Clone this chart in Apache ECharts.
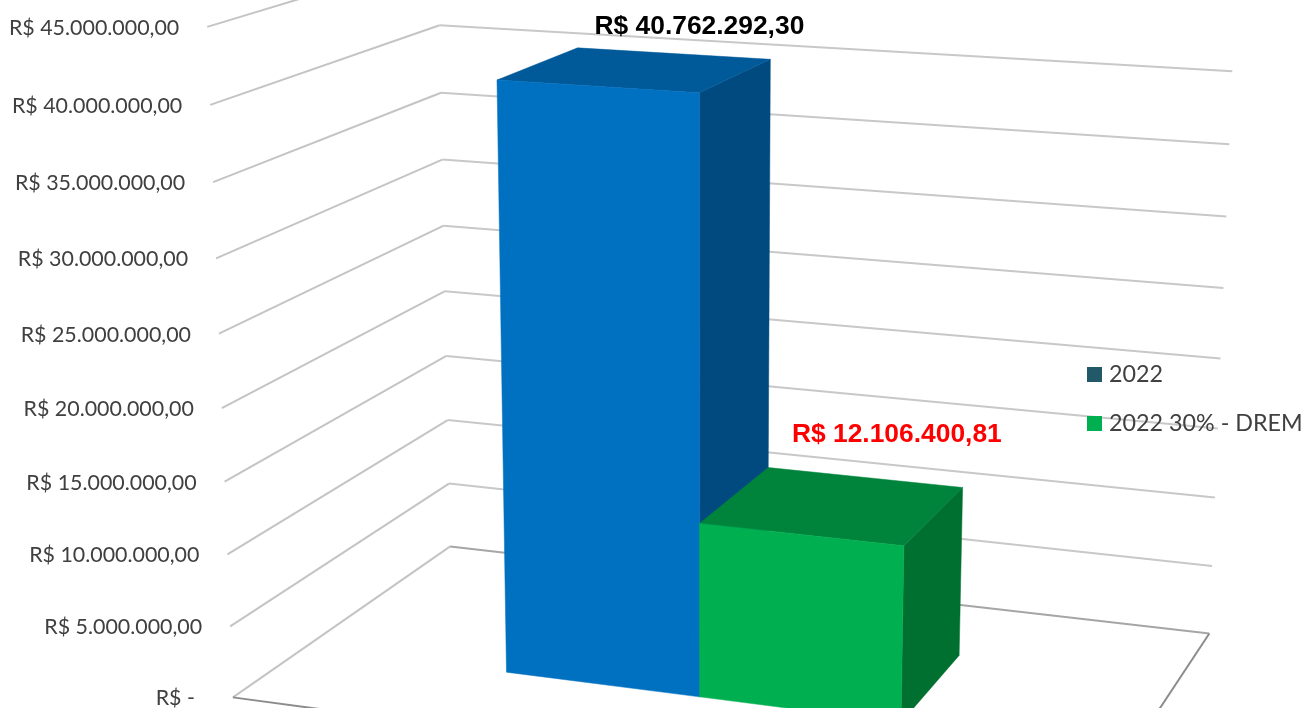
<!DOCTYPE html>
<html>
<head>
<meta charset="utf-8">
<style>html,body{margin:0;padding:0;background:#fff}#c{width:1304px;height:708px}</style>
<script src="https://cdn.jsdelivr.net/npm/echarts@6/dist/echarts.min.js"></script>
</head>
<body>
<div id="c"></div>
<script>
const categories = ['2022', '2022 30% - DREM'];
const seriesValues2022 = [40762292.30];
const seriesValuesDrem = [12106400.81];
const dataLabels = ['R$ 40.762.292,30', 'R$ 12.106.400,81'];
const tickValues = [0, 5000000, 10000000, 15000000, 20000000, 25000000, 30000000, 35000000, 40000000, 45000000];
const tickLabels = ['R$ -', 'R$ 5.000.000,00', 'R$ 10.000.000,00', 'R$ 15.000.000,00', 'R$ 20.000.000,00', 'R$ 25.000.000,00', 'R$ 30.000.000,00', 'R$ 35.000.000,00', 'R$ 40.000.000,00', 'R$ 45.000.000,00'];
const axisMax = 45000000;

// Camera: least-squares fit of a projective matrix to the frame of the 3D box.
const frame = [
  [0,0,0,233,697],[0,1,0,207,28],[0,8/9,0,210,104],[0,4/9,0,222,408],
  [0,0,1,450,547],[0,8/9,1,440,25],[0,4/9,1,445,291],
  [1,0,1,1209,633],[1,8/9,1,1232,71],[1,4/9,1,1221,359],
  [1,0,0,1091,813]
];
function fitCamera(pts){
  const rows=[],rhs=[];
  pts.forEach(([x,y,z,u,v])=>{
    rows.push([x,y,z,1,0,0,0,0,-u*x,-u*y,-u*z]);rhs.push(u);
    rows.push([0,0,0,0,x,y,z,1,-v*x,-v*y,-v*z]);rhs.push(v);
  });
  const n=11,A=[];
  for(let i=0;i<n;i++){A.push([]);for(let j=0;j<=n;j++){let s=0;
    rows.forEach((r,k)=>{s+=r[i]*(j<n?r[j]:rhs[k]);});A[i].push(s);}}
  for(let i=0;i<n;i++){let p=i;
    for(let k=i+1;k<n;k++) if(Math.abs(A[k][i])>Math.abs(A[p][i])) p=k;
    [A[i],A[p]]=[A[p],A[i]];
    for(let k=0;k<n;k++){ if(k===i) continue; const f=A[k][i]/A[i][i];
      for(let j=i;j<=n;j++) A[k][j]-=f*A[i][j]; }
  }
  return A.map((r,i)=>r[n]/r[i]);
}
const M=fitCamera(frame);
function project(x,y,z){
  const w=M[8]*x+M[9]*y+M[10]*z+1;
  return [(M[0]*x+M[1]*y+M[2]*z+M[3])/w,(M[4]*x+M[5]*y+M[6]*z+M[7])/w];
}
// Height fraction from the library's value axis (the grid fills the whole canvas).
const heightOf=(api,v)=>1-api.coord([0,v])[1]/api.getHeight();

const barStart=0.2595, barWidth=0.2395, depthFront=0.307, depthBack=0.702;
const LABEL_FONT='21.4px Lato, "Open Sans", sans-serif';

function renderWall(params,api){
  const v=api.value(1), y=heightOf(api,v), idx=params.dataIndex;
  const a=project(0,y,0), b=project(0,y,1), c=project(1,y,1);
  const children=[
    {type:'polyline',shape:{points:[a,b]},style:{stroke:'#c4c4c4',lineWidth:2,fill:null}},
    {type:'polyline',shape:{points:[b,c]},style:{stroke:v===0?'#a6a6a6':'#c8c8c8',lineWidth:2,fill:null}},
    {type:'text',style:{text:tickLabels[idx],x:a[0]-(v===0?38:28),y:a[1]+1,textAlign:'right',textVerticalAlign:'middle',font:LABEL_FONT,fill:'#404040'}}
  ];
  if(v===0){
    const d=project(1,0,0);
    children.push({type:'polyline',shape:{points:[a,d]},style:{stroke:'#8c8c8c',lineWidth:2,fill:null}});
    children.push({type:'polyline',shape:{points:[c,d]},style:{stroke:'#8c8c8c',lineWidth:2,fill:null}});
  }
  return {type:'group',children};
}

function barRenderer(colors,labelDx,labelDy,labelColor){
  return function(params,api){
    const i=api.value(0), v=api.value(1), y=heightOf(api,v);
    const x0=barStart+i*barWidth, x1=x0+barWidth, z0=depthFront, z1=depthBack;
    const poly=(pts,fill)=>({type:'polygon',shape:{points:pts.map(p=>project(p[0],p[1],p[2]))},
      style:{fill,stroke:fill,lineWidth:0.5}});
    const anchor=project(x1,y,z0);
    return {type:'group',children:[
      poly([[x1,0,z0],[x1,0,z1],[x1,y,z1],[x1,y,z0]],colors.side),
      poly([[x0,y,z0],[x0,y,z1],[x1,y,z1],[x1,y,z0]],colors.top),
      poly([[x0,0,z0],[x1,0,z0],[x1,y,z0],[x0,y,z0]],colors.front),
      {type:'text',style:{text:dataLabels[i],x:anchor[0]+labelDx,y:anchor[1]+labelDy,textAlign:'center',textVerticalAlign:'middle',
        font:'bold 26.4px "Liberation Sans", Arial, sans-serif',fill:labelColor}}
    ]};
  };
}

const chart=echarts.init(document.getElementById('c'),null,{renderer:'canvas'});
chart.setOption({
  animation:false,
  backgroundColor:'#ffffff',
  grid:{left:0,right:0,top:0,bottom:0},
  xAxis:{type:'category',data:categories,show:false},
  yAxis:{type:'value',min:0,max:axisMax,interval:5000000,show:false},
  tooltip:{show:false},
  legend:{
    data:categories,orient:'vertical',left:1082,top:358,itemWidth:15,itemHeight:15,itemGap:26,
    icon:'rect',selectedMode:false,
    textStyle:{fontFamily:'Lato, "Open Sans", sans-serif',fontSize:23.3,color:'#404040',padding:[0,0,0,2]}
  },
  series:[
    {type:'custom',name:'walls',z:1,silent:true,clip:false,
      data:tickValues.map(v=>[0,v]),encode:{x:0,y:1},renderItem:renderWall},
    {type:'custom',name:categories[0],z:2,silent:true,clip:false,itemStyle:{color:'#215968'},
      data:seriesValues2022.map(v=>[0,v]),encode:{x:0,y:1},
      renderItem:barRenderer({front:'#0070c0',top:'#005a9a',side:'#004a80'},0,-66,'#000000')},
    {type:'custom',name:categories[1],z:3,silent:true,clip:false,itemStyle:{color:'#00b050'},
      data:seriesValuesDrem.map(v=>[1,v]),encode:{x:0,y:1},
      renderItem:barRenderer({front:'#00b050',top:'#00843c',side:'#007030'},-7,-111,'#ff0000')}
  ]
});
</script>
</body>
</html>
